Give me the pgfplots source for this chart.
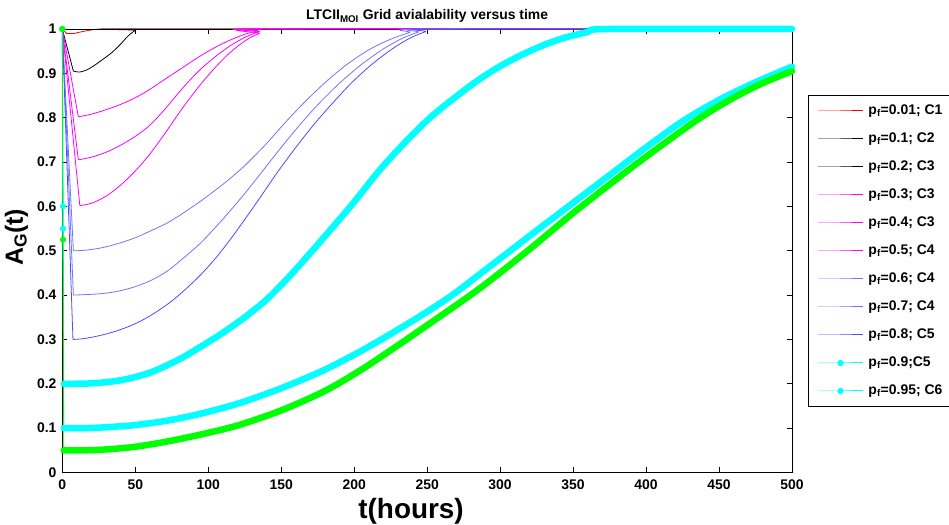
\documentclass[border=0pt]{standalone}
\usepackage{fontspec}
\setmainfont{Liberation Sans}
\usepackage{pgfplots}
\pgfplotsset{compat=1.18}
\definecolor{cR}{rgb}{1,0,0}
\definecolor{cK}{rgb}{0,0,0}
\definecolor{cM}{rgb}{1,0,1}
\definecolor{cB}{rgb}{0.45,0.45,1}
\definecolor{cB2}{rgb}{0.3,0.3,1}
\definecolor{cC}{rgb}{0,1,1}
\definecolor{cG}{rgb}{0,1,0}
\begin{document}
\begin{tikzpicture}
\useasboundingbox (0,0) rectangle (949bp,525bp);
\begin{axis}[
  at={(62.3bp,52.5bp)}, anchor=south west,
  scale only axis, width=729.7bp, height=443.5bp,
  xmin=0, xmax=500, ymin=0, ymax=1,
  clip=false,
  xtick={0,50,100,150,200,250,300,350,400,450,500},
  ytick={0,0.1,0.2,0.3,0.4,0.5,0.6,0.7,0.8,0.9,1},
  yticklabels={0,0.1,0.2,0.3,0.4,0.5,0.6,0.7,0.8,0.9,1},
  /pgf/number format/assume math mode=true,
  tick label style={font=\bfseries\fontsize{14}{14}\selectfont},
  yticklabel style={xshift=-2.3bp},
  xticklabel style={yshift=-3.5bp},
  tick align=inside, major tick length=5bp,
  tick style={black, line width=0.6bp},
  axis line style={line width=0.8bp},
  every axis title/.style={at={(axis description cs:0.5,1.0203)}, anchor=base, font=\bfseries\fontsize{14}{14}\selectfont},
  title={LTCII\textsubscript{MOI} Grid avialability versus time},
  every axis x label/.style={at={(axis description cs:0.478,-0.1026)}, anchor=base, font=\bfseries\fontsize{28}{28}\selectfont},
  xlabel={t(hours)},
  every axis y label/.style={at={(axis description cs:-0.0539,0.53)}, rotate=90, anchor=base, font=\bfseries\fontsize{25}{25}\selectfont},
  ylabel={A\textsubscript{G}(t)},
  legend image code/.code={\draw[mark repeat=2,mark phase=2,#1,line width=1bp] plot coordinates {(0bp,0bp)(22.5bp,0bp)(45bp,0bp)};},
  legend cell align=left,
  legend style={at={(axis description cs:1.0219,0.8512)}, anchor=north west,
    fill=white, line width=1bp,
    font=\bfseries\fontsize{14}{14}\selectfont,
    nodes={inner sep=0pt, text height=11bp, text depth=4bp},
    row sep=13bp, inner xsep=9bp, inner ysep=8bp,
    /tikz/every odd column/.append style={column sep=5bp}},
]
% p=0.01
\addplot[draw=cR, line width=0.8bp] coordinates {(0,1)(3,0.99)(8,0.99)(15,0.995)(22,0.999)(30,1)(500,1)};
\addlegendentry{p\textsubscript{f}=0.01; C1}
% p=0.1
\addplot[draw=cK, line width=0.8bp] coordinates {(0,1)(7.6,0.905)};
\addlegendentry{p\textsubscript{f}=0.1; C2}
\addplot[draw=cK, line width=0.8bp, smooth, tension=0.5, forget plot] coordinates {(7.6,0.905)(12,0.903)(17,0.908)(22,0.918)(28,0.932)(34,0.947)(40,0.966)(45,0.984)(50,0.997)(53,1)(500,1)};
% p=0.2
\addplot[draw=cK, line width=0.8bp] coordinates {(0,1)(500,1)};
\addlegendentry{p\textsubscript{f}=0.2; C3}
% p=0.3
\addplot[draw=cM, line width=0.8bp] coordinates {(0,1)(11,0.802)};
\addlegendentry{p\textsubscript{f}=0.3; C3}
\addplot[draw=cM, line width=0.8bp, smooth, tension=0.5, forget plot] coordinates {(11,0.802)(20,0.808)(30,0.818)(40,0.83)(50,0.845)(60,0.864)(70,0.886)(82,0.912)(94,0.938)(105,0.959)(115,0.975)(125,0.988)(134,0.996)(142,1)(500,1)};
% p=0.4
\addplot[draw=cM, line width=0.8bp] coordinates {(0,1)(11,0.705)};
\addlegendentry{p\textsubscript{f}=0.4; C3}
\addplot[draw=cM, line width=0.8bp, smooth, tension=0.5, forget plot] coordinates {(11,0.705)(20,0.711)(30,0.722)(40,0.738)(50,0.758)(60,0.783)(70,0.818)(82,0.865)(94,0.907)(105,0.938)(115,0.962)(125,0.981)(135,0.994)(143,1)(500,1)};
% p=0.5
\addplot[draw=cM, line width=0.8bp] coordinates {(0,1)(12,0.602)};
\addlegendentry{p\textsubscript{f}=0.5; C4}
\addplot[draw=cM, line width=0.8bp, smooth, tension=0.5, forget plot] coordinates {(12,0.602)(20,0.607)(30,0.623)(40,0.648)(50,0.68)(60,0.718)(70,0.763)(82,0.82)(94,0.872)(105,0.914)(115,0.947)(126,0.975)(135,0.99)(144,1)(500,1)};
% p=0.6
\addplot[draw=cB, line width=0.8bp] coordinates {(0,1)(7.6,0.5)};
\addlegendentry{p\textsubscript{f}=0.6; C4}
\addplot[draw=cB, line width=0.8bp, smooth, tension=0.5, forget plot] coordinates {(7.6,0.5)(15,0.501)(26,0.506)(37,0.515)(49,0.528)(60,0.544)(71.5,0.562)(81,0.581)(94,0.61)(105,0.637)(115,0.663)(126,0.695)(140,0.742)(153,0.79)(166,0.835)(180,0.879)(195,0.92)(210,0.953)(225,0.977)(238,0.992)(250,1)(500,1)};
% p=0.7
\addplot[draw=cB, line width=0.8bp] coordinates {(0,1)(7.6,0.4)};
\addlegendentry{p\textsubscript{f}=0.7; C4}
\addplot[draw=cB, line width=0.8bp, smooth, tension=0.5, forget plot] coordinates {(7.6,0.4)(15,0.401)(26,0.403)(37,0.408)(49,0.418)(60,0.432)(71,0.452)(81,0.478)(94,0.515)(105,0.553)(115,0.59)(126,0.633)(138,0.683)(150,0.733)(162,0.781)(175,0.829)(190,0.878)(205,0.92)(220,0.955)(233,0.979)(244,0.993)(254,1)(500,1)};
% p=0.8
\addplot[draw=cB2, line width=0.8bp] coordinates {(0,1)(7.3,0.3)};
\addlegendentry{p\textsubscript{f}=0.8; C5}
\addplot[draw=cB2, line width=0.8bp, smooth, tension=0.5, forget plot] coordinates {(7.3,0.3)(15,0.302)(26,0.309)(37,0.319)(49,0.334)(60,0.353)(71.5,0.378)(81,0.403)(94,0.443)(105,0.483)(115,0.525)(126,0.575)(137,0.627)(147,0.675)(160,0.733)(173,0.787)(185,0.832)(198,0.878)(212,0.92)(226,0.955)(238,0.979)(249,0.994)(258,1)(500,1)};
% p=0.9
\addplot[draw=cC, line width=0.8bp, mark=*, mark size=2.6bp, mark options={draw=cC, fill=cC}] coordinates {(0,1)(0.5,0.6)(1,0.2)};
\addlegendentry{p\textsubscript{f}=0.9;C5}
\addplot[draw=cC, line width=6.5bp, line cap=round, line join=round, smooth, tension=0.5, forget plot] coordinates {(1,0.2)(20,0.201)(40,0.208)(60,0.225)(80,0.255)(94,0.282)(110,0.315)(125,0.35)(140,0.39)(155,0.44)(170,0.495)(185,0.552)(200,0.61)(217,0.68)(235,0.745)(252,0.8)(270,0.848)(286,0.887)(300,0.916)(315,0.942)(330,0.964)(345,0.981)(360,0.993)(374,1)(500,1)};
% p=0.95
\addplot[draw=cC, line width=0.8bp, mark=*, mark size=2.6bp, mark options={draw=cC, fill=cC}] coordinates {(0,1)(0.5,0.55)(1,0.1)};
\addlegendentry{p\textsubscript{f}=0.95; C6}
\addplot[draw=cC, line width=6.5bp, line cap=round, line join=round, smooth, tension=0.5, forget plot] coordinates {(1,0.1)(15,0.1)(30,0.102)(50,0.107)(72,0.117)(94,0.132)(120,0.155)(150,0.19)(180,0.232)(208,0.28)(240,0.342)(265,0.395)(286,0.447)(320,0.533)(350,0.608)(380,0.683)(400,0.733)(425,0.792)(450,0.84)(475,0.88)(500,0.915)};
% green series (no legend entry)
\addplot[draw=cG, line width=0.8bp, mark=*, mark size=2.6bp, mark options={draw=cG, fill=cG}, forget plot] coordinates {(0,1)(0.5,0.525)(1,0.05)};
\addplot[draw=cG, line width=6.5bp, line cap=round, line join=round, smooth, tension=0.5, forget plot] coordinates {(1,0.05)(15,0.05)(30,0.052)(50,0.058)(72,0.07)(94,0.085)(120,0.106)(150,0.14)(180,0.184)(205,0.232)(227,0.28)(250,0.332)(286,0.415)(320,0.503)(350,0.585)(380,0.662)(400,0.712)(435,0.795)(460,0.845)(480,0.878)(500,0.905)};
\end{axis}
\end{tikzpicture}
\end{document}
